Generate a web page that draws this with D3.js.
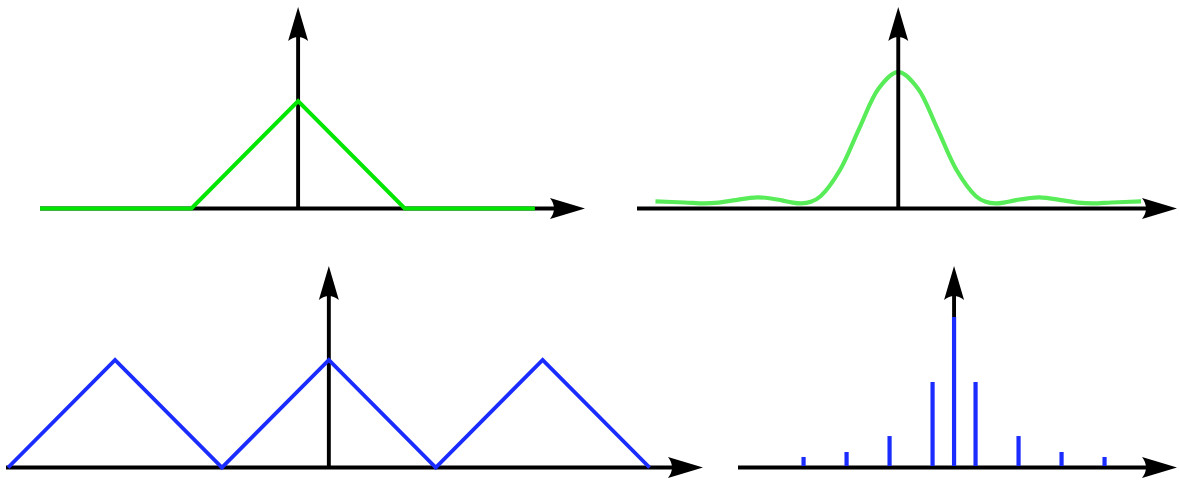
<!DOCTYPE html>
<html>
<head>
<meta charset="utf-8">
<script src="https://cdn.jsdelivr.net/npm/d3@7"></script>
<style>
  html, body { margin: 0; padding: 0; background: #fff; }
  svg { display: block; }
</style>
</head>
<body>
<svg id="chart" width="1179" height="481"></svg>
<script>
// triangle pulse (top left)
const pulseX = [-2.42, -1, 0, 1, 2.22];
const pulseY = [0, 0, 1, 0, 0];

// its spectrum (top right)
const specX = [-2.5, -2.2, -2.0, -1.85, -1.7, -1.45, -1.2, -1.1, -1.0, -0.9, -0.8, -0.6, -0.4, -0.2, 0,
  0.2, 0.4, 0.6, 0.8, 0.9, 1.0, 1.1, 1.2, 1.45, 1.7, 1.85, 2.0, 2.2, 2.5];
const specY = [0.052, 0.044, 0.037, 0.043, 0.059, 0.082, 0.060, 0.045, 0.037, 0.049, 0.090, 0.282, 0.589, 0.881, 1.0,
  0.881, 0.589, 0.282, 0.090, 0.049, 0.037, 0.045, 0.060, 0.082, 0.059, 0.043, 0.037, 0.044, 0.052];

// periodic triangle wave (bottom left)
const waveX = [-3, -2, -1, 0, 1, 2, 3];
const waveY = [0, 1, 0, 1, 0, 1, 0];

// line spectrum (bottom right)
const harmonics = [-7, -5, -3, -1, 0, 1, 3, 5, 7];
const amplitudes = [0.070, 0.103, 0.209, 0.568, 1, 0.568, 0.209, 0.103, 0.070];

const svg = d3.select("#chart");

const axisColor = "#000";
const axisWidth = 3.9;

function arrowPath(len, half, notch) {
  // points along +x, tip at origin
  return `M0,0 L${-len},${-half} Q${-len + notch * 2},0 ${-len},${half} Z`;
}

function makePanel(p) {
  const x = d3.scaleLinear().domain(p.xDomain).range(p.xRange);
  const y = d3.scaleLinear().domain(p.yDomain).range(p.yRange);
  const g = svg.append("g");

  const x0 = x(p.xDomain[0]), x1 = x(p.xDomain[1]);
  const y0 = y(0), yTop = y(p.yDomain[1]);
  const cx = x(0);

  const axes = g.append("g");
  axes.append("line")
    .attr("x1", x0).attr("x2", x1 - 20)
    .attr("y1", y0).attr("y2", y0)
    .attr("stroke", axisColor).attr("stroke-width", axisWidth);
  axes.append("path")
    .attr("d", arrowPath(35, 10.5, 4))
    .attr("transform", `translate(${x1},${y0})`)
    .attr("fill", axisColor);

  const vAxis = g.append("g");
  vAxis.append("line")
    .attr("x1", cx).attr("x2", cx)
    .attr("y1", y0).attr("y2", yTop + 20)
    .attr("stroke", axisColor).attr("stroke-width", axisWidth);
  vAxis.append("path")
    .attr("d", arrowPath(34, 10, 4))
    .attr("transform", `translate(${cx},${yTop}) rotate(-90)`)
    .attr("fill", axisColor);

  return { g, x, y, vAxis };
}

// top left
const a = makePanel({ xDomain: [-2.42, 2.69], xRange: [40, 585], yDomain: [0, 1.874], yRange: [208.5, 7] });
a.g.append("path")
  .datum(d3.zip(pulseX, pulseY))
  .attr("d", d3.line().x(d => a.x(d[0])).y(d => a.y(d[1])))
  .attr("fill", "none")
  .attr("stroke", "#00e600")
  .attr("stroke-width", 4)
  .attr("stroke-linejoin", "miter");

// top right
const b = makePanel({ xDomain: [-2.69, 2.87], xRange: [637, 1177], yDomain: [0, 1.476], yRange: [208.5, 7] });
b.g.append("path")
  .datum(d3.zip(specX, specY))
  .attr("d", d3.line().curve(d3.curveCatmullRom.alpha(0.5)).x(d => b.x(d[0])).y(d => b.y(d[1])))
  .attr("fill", "none")
  .attr("stroke", "#58ec58")
  .attr("stroke-width", 4.2);
b.vAxis.raise();

// bottom left
const c = makePanel({ xDomain: [-3.02, 3.5], xRange: [6, 703], yDomain: [0, 1.874], yRange: [467.5, 266] });
c.g.append("path")
  .datum(d3.zip(waveX, waveY))
  .attr("d", d3.line().x(d => c.x(d[0])).y(d => c.y(d[1])))
  .attr("fill", "none")
  .attr("stroke", "#1a2cff")
  .attr("stroke-width", 3.9)
  .attr("stroke-linejoin", "miter");

// bottom right
const d = makePanel({ xDomain: [-10.05, 10.37], xRange: [738, 1177], yDomain: [0, 1.339], yRange: [467.5, 266] });
d.g.selectAll("line.stem")
  .data(d3.zip(harmonics, amplitudes))
  .join("line")
  .attr("class", "stem")
  .attr("x1", v => d.x(v[0])).attr("x2", v => d.x(v[0]))
  .attr("y1", d.y(0) - 1.5).attr("y2", v => d.y(v[1]))
  .attr("stroke", "#1a2cff")
  .attr("stroke-width", 4.2);
</script>
</body>
</html>
